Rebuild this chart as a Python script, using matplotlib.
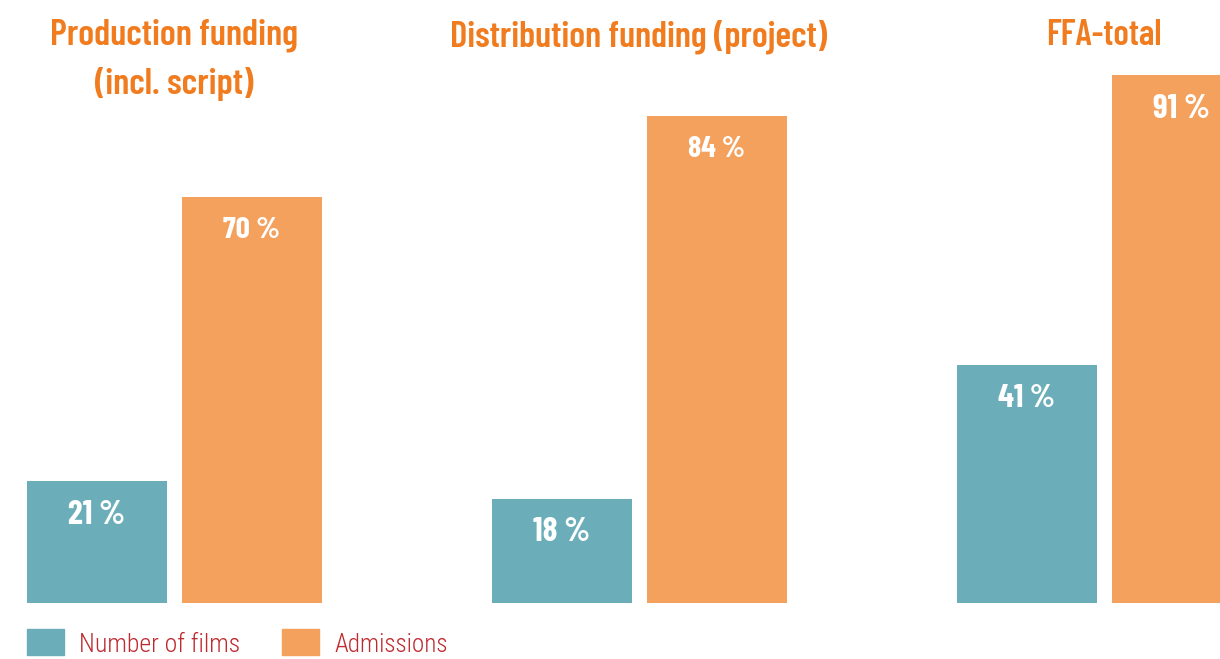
import matplotlib
matplotlib.use("Agg")
import matplotlib.pyplot as plt
from matplotlib.patches import Rectangle
from matplotlib import font_manager

groups = ["Production funding\n(incl. script)", "Distribution funding (project)", "FFA-total"]
films = [21, 18, 41]
admissions = [70, 84, 91]
series_names = ["Number of films", "Admissions"]

TEAL = "#6BAEBA"
ORANGE = "#F4A15D"
TITLE_C = "#F07C1F"
LEG_C = "#BE2A30"

names = {f.name for f in font_manager.fontManager.ttflist}


def pick(cands):
    return next((c for c in cands if c in names), "DejaVu Sans")


head = pick(["Barlow Condensed", "Fira Sans Extra Condensed", "Roboto Condensed",
             "Asap Condensed", "Archivo Narrow", "Liberation Sans Narrow", "Roboto"])
body = pick(["Roboto Condensed", "Barlow Condensed", "Asap Condensed", "Archivo Narrow",
             "Liberation Sans Narrow", "Roboto"])
HEAD = [head, "DejaVu Sans"]
BODY = [body, "DejaVu Sans"]

W, H = 1220, 659
fig = plt.figure(figsize=(W / 100, H / 100), dpi=100)
ax = fig.add_axes([0, 56 / H, 1, 580 / H])
ax.set_xlim(0, W)
ax.set_ylim(0, 100)
ax.axis("off")
renderer = fig.canvas.get_renderer()


def fit(t, target_w):
    """scale a text's font size so its width matches target_w pixels"""
    for _ in range(3):
        w = t.get_window_extent(renderer).width
        t.set_fontsize(t.get_fontsize() * target_w / w)


spacing = 465
bw = 140
c_films = [96.5 + i * spacing for i in range(len(groups))]
c_adm = [251.5 + i * spacing for i in range(len(groups))]

ax.bar(c_films, films, width=bw, color=TEAL, clip_on=False)
ax.bar(c_adm, admissions, width=bw, color=ORANGE, clip_on=False)

label_w = 57
for xs, vals in ((c_films, films), (c_adm, admissions)):
    for x, v in zip(xs, vals):
        t = ax.annotate(f"{v}\u2009%", (x, v), xytext=(0, -24), textcoords="offset points",
                        ha="center", va="center", color="white", fontsize=22,
                        fontweight="bold", family=HEAD)
        fit(t, label_w)

title_w = [248, 377, 115]
for i, g in enumerate(groups):
    gc = (c_films[i] + c_adm[i]) / 2
    t = fig.text(gc / W, 1 - 19 / H, g, ha="center", va="top", color=TITLE_C,
                 fontsize=24, fontweight="semibold", family=HEAD, linespacing=1.55)
    fit(t, title_w[i])

# legend
leg_w = [161, 113]
for j, (name, col) in enumerate(zip(series_names, [TEAL, ORANGE])):
    x0 = 27 + j * 255
    fig.patches.append(Rectangle((x0 / W, 1 - 655 / H), 37 / W, 26 / H,
                                 transform=fig.transFigure, color=col))
    t = fig.text((x0 + 52) / W, 1 - 645 / H, name, ha="left", va="center",
                 color=LEG_C, fontsize=20, fontweight="light", family=BODY)
    fit(t, leg_w[j])

fig.savefig("out.png", dpi=100)
